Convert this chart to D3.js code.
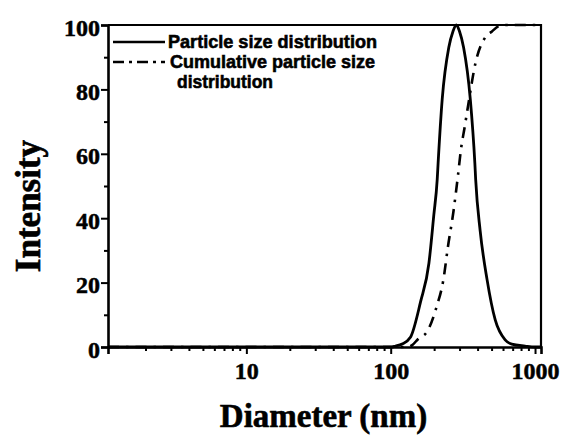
<!DOCTYPE html>
<html>
<head>
<meta charset="utf-8">
<script src="https://cdn.jsdelivr.net/npm/d3@7"></script>
<style>
  html, body { margin: 0; padding: 0; background: #fff; }
  svg { display: block; }
</style>
</head>
<body>
<svg id="chart" width="563" height="435"></svg>
<script>
// Particle size distribution (intensity vs. diameter, log axis)
const distDiameter = [1.1, 100, 108, 120, 137, 161, 184, 199, 210, 213, 227.5, 252.6, 270, 285, 300, 320, 356, 383, 388, 417, 465, 530, 621, 690, 853, 1000, 1100];
const distIntensity = [0, 0, 0.3, 0.9, 3, 14, 26, 41, 52, 57, 77, 93, 98, 100, 98, 93, 77, 57, 52, 36, 21, 8.4, 2.2, 0.9, 0.3, 0, 0];

// Cumulative particle size distribution
const cumDiameter = [1.1, 130, 141, 155, 179, 208, 232, 249, 272, 292, 306, 326, 344, 386, 456, 503, 556, 600, 1100];
const cumIntensity = [0, 0, 0.6, 2.5, 4.8, 12.5, 21, 31, 42, 53, 61, 68.5, 75, 88, 96.4, 98, 99.6, 100, 100];

// Axis ticks and labels
const xMajorTicks = [10, 100, 1000];
const yMajorTicks = [0, 20, 40, 60, 80, 100];
const yMinorTicks = [10, 30, 50, 70, 90];
const legendLabels = ["Particle size distribution", "Cumulative particle size", "distribution"];
const xTitle = "Diameter (nm)";
const yTitle = "Intensity";

const svg = d3.select("#chart");
const plotLeft = 108, plotRight = 541, plotTop = 25, plotBottom = 347;

const x = d3.scaleLog().domain([1.1, 1100]).range([plotLeft, plotRight]);
const y = d3.scaleLinear().domain([0, 100]).range([plotBottom, plotTop]);

const serif = "'Liberation Serif', 'Times New Roman', serif";
const sans = "'Liberation Sans', Arial, sans-serif";

// Curves
const line = d3.line()
  .x(d => x(d[0]))
  .y(d => y(d[1]))
  .curve(d3.curveMonotoneX);

svg.append("path")
  .datum(cumDiameter.map((d, i) => [d, cumIntensity[i]]))
  .attr("d", line)
  .attr("fill", "none")
  .attr("stroke", "#000")
  .attr("stroke-width", 2.6)
  .attr("stroke-dasharray", "11,7,2.5,7");

svg.append("path")
  .datum(distDiameter.map((d, i) => [d, distIntensity[i]]))
  .attr("d", line)
  .attr("fill", "none")
  .attr("stroke", "#000")
  .attr("stroke-width", 2.8)
  .attr("stroke-linejoin", "round");

// Frame: top and right borders
svg.append("path")
  .attr("d", `M${plotLeft},${plotTop}H${plotRight}V${plotBottom}`)
  .attr("fill", "none")
  .attr("stroke", "#000")
  .attr("stroke-width", 2.2);

// X axis
const xMinor = x.ticks().filter(t => !xMajorTicks.includes(t));
const gxMinor = svg.append("g")
  .attr("transform", `translate(0,${plotBottom})`)
  .call(d3.axisBottom(x).tickValues(xMinor).tickSize(4).tickFormat(""));
const gx = svg.append("g")
  .attr("transform", `translate(0,${plotBottom})`)
  .call(d3.axisBottom(x).tickValues(xMajorTicks).tickSize(7).tickPadding(6).tickFormat(d3.format("d")));

// Y axis
const gyMinor = svg.append("g")
  .attr("transform", `translate(${plotLeft},0)`)
  .call(d3.axisLeft(y).tickValues(yMinorTicks).tickSize(4).tickFormat(""));
const gy = svg.append("g")
  .attr("transform", `translate(${plotLeft},0)`)
  .call(d3.axisLeft(y).tickValues(yMajorTicks).tickSize(7).tickPadding(1).tickFormat(d3.format("d")));

[gx, gxMinor, gy, gyMinor].forEach(g => {
  g.select(".domain").attr("stroke", "#000").attr("stroke-width", 2.6);
  g.selectAll(".tick line").attr("stroke", "#000").attr("stroke-width", 2);
});
gxMinor.select(".domain").remove();
gyMinor.select(".domain").remove();

gx.selectAll(".tick text")
  .attr("font-family", serif)
  .attr("font-weight", "bold")
  .attr("font-size", 24)
  .attr("fill", "#000")
  .attr("stroke", "#000")
  .attr("stroke-width", 0.5)
  .attr("dy", "0.78em");

gy.selectAll(".tick text")
  .attr("font-family", serif)
  .attr("font-weight", "bold")
  .attr("font-size", 24)
  .attr("fill", "#000")
  .attr("stroke", "#000")
  .attr("stroke-width", 0.5)
  .attr("dy", "0.42em");

// Axis titles
svg.append("text")
  .attr("x", (plotLeft + plotRight) / 2 - 1)
  .attr("y", 427)
  .attr("text-anchor", "middle")
  .attr("font-family", serif)
  .attr("font-weight", "bold")
  .attr("font-size", 33)
  .attr("fill", "#000")
  .attr("stroke", "#000")
  .attr("stroke-width", 0.6)
  .text(xTitle);

svg.append("text")
  .attr("transform", "translate(40,206) rotate(-90)")
  .attr("text-anchor", "middle")
  .attr("font-family", serif)
  .attr("font-weight", "bold")
  .attr("font-size", 35)
  .attr("fill", "#000")
  .attr("stroke", "#000")
  .attr("stroke-width", 0.6)
  .text(yTitle);

// Legend
const legend = svg.append("g");
legend.append("line")
  .attr("x1", 113).attr("x2", 165).attr("y1", 42).attr("y2", 42)
  .attr("stroke", "#000").attr("stroke-width", 2.6);
legend.append("line")
  .attr("x1", 113).attr("x2", 165).attr("y1", 62).attr("y2", 62)
  .attr("stroke", "#000").attr("stroke-width", 2.6)
  .attr("stroke-dasharray", "11,5,3,5");

const legendRows = [
  { x: 168, y: 47.5, w: 209 },
  { x: 170, y: 68, w: 205 },
  { x: 177, y: 88, w: 96 }
];
legendLabels.forEach((t, i) => {
  legend.append("text")
    .attr("x", legendRows[i].x)
    .attr("y", legendRows[i].y)
    .attr("font-family", sans)
    .attr("font-weight", "bold")
    .attr("font-size", 19)
    .attr("textLength", legendRows[i].w)
    .attr("lengthAdjust", "spacingAndGlyphs")
    .attr("fill", "#000")
    .attr("stroke", "#000")
    .attr("stroke-width", 0.6)
    .text(t);
});
</script>
</body>
</html>
